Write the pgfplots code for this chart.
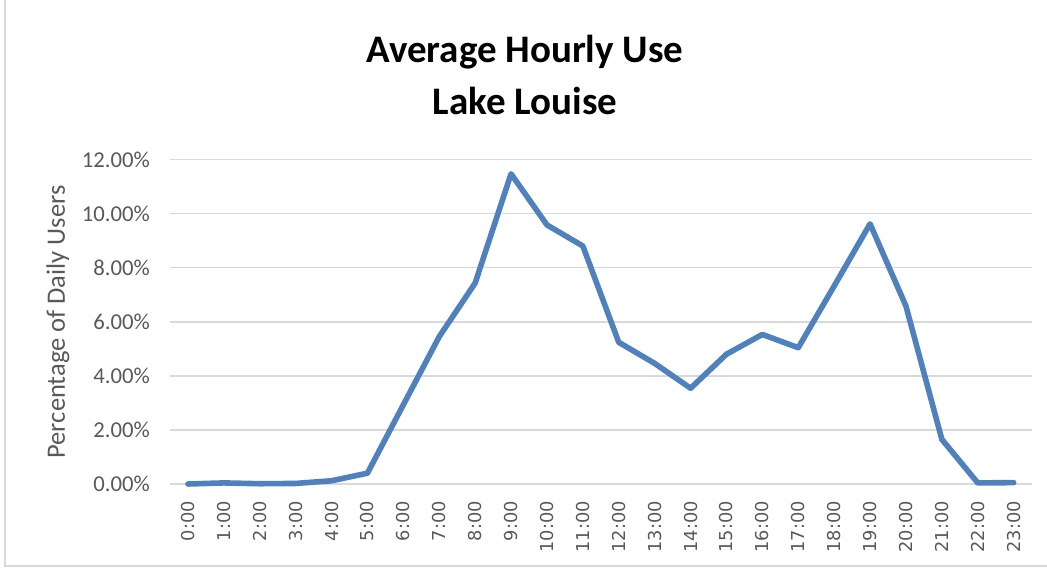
\documentclass[border=0pt]{standalone}
\usepackage{fontspec}
\setmainfont{Carlito}
\newfontfamily\dejavu{DejaVu Sans}
\usepackage{pgfplots}
\pgfplotsset{compat=1.18}
\definecolor{lineblue}{HTML}{4F81BD}
\definecolor{gridgray}{HTML}{D9D9D9}
\definecolor{labgray}{HTML}{595959}
\begin{document}
\begin{tikzpicture}[x=1pt,y=1pt]
\useasboundingbox (-170,-85) rectangle (877,484);
\draw[gridgray, line width=1.2pt] (-165,484) -- (-165,-82) -- (877,-82);
\begin{axis}[
  at={(0,0)}, anchor=south west,
  scale only axis,
  width=861.6pt, height=324.5pt,
  xmin=-0.5, xmax=23.5,
  ymin=0, ymax=12,
  xtick={0,...,23},
  xticklabels={0:00,1:00,2:00,3:00,4:00,5:00,6:00,7:00,8:00,9:00,10:00,11:00,12:00,13:00,14:00,15:00,16:00,17:00,18:00,19:00,20:00,21:00,22:00,23:00},
  ytick={0,2,...,12},
  yticklabel={\pgfmathprintnumber[fixed,fixed zerofill,precision=2]{\tick}\%},
  /pgf/number format/assume math mode=true,
  yticklabel style={font=\fontsize{22.7}{26}\selectfont, text=labgray, anchor=east, inner sep=0pt, xshift=-20pt},
  xticklabel style={font=\dejavu\fontsize{17.8}{20}\selectfont, text=labgray, rotate=90, anchor=east, inner sep=0pt},
  xticklabel shift=17pt,
  major tick length=0pt,
  axis line style={draw=none},
  ymajorgrids,
  grid style={gridgray, line width=1.6pt},
  clip=false,
]
\addplot[lineblue, line width=5.6pt, line join=round, line cap=round] coordinates {
(0,0.00) (1,0.04) (2,0.01) (3,0.02) (4,0.12) (5,0.40) (6,2.93) (7,5.45)
(8,7.43) (9,11.47) (10,9.58) (11,8.80) (12,5.24) (13,4.46) (14,3.54)
(15,4.80) (16,5.53) (17,5.04) (18,7.32) (19,9.62) (20,6.58) (21,1.65)
(22,0.04) (23,0.05)
};
\end{axis}
\node[rotate=90, text=labgray, font=\fontsize{26.5}{30}\selectfont] at (-112,162) {Percentage of Daily Users};
\node[anchor=base, font=\bfseries\fontsize{39}{44}\selectfont] at (355,421) {Average Hourly Use};
\node[anchor=base, font=\bfseries\fontsize{39}{44}\selectfont] at (355,369.7) {Lake Louise};
\end{tikzpicture}
\end{document}
